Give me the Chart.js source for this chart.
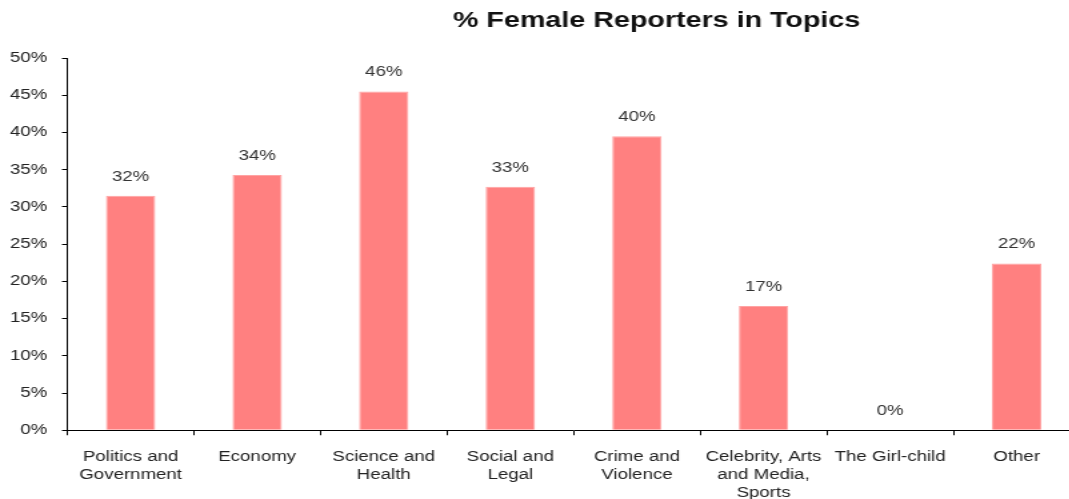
<!DOCTYPE html>
<html>
<head>
<meta charset="utf-8">
<title>% Female Reporters in Topics</title>
<script src="https://cdn.jsdelivr.net/npm/chart.js@4.4.1/dist/chart.umd.min.js"></script>
<style>
  html, body { margin: 0; padding: 0; background: #fff; overflow: hidden; }
</style>
</head>
<body>
<!-- drawn narrow, shown wide -->
<canvas id="topics-chart" width="810" height="499" style="display:block;width:1080px;height:499px"></canvas>
<script>
const topics = [
  ["Politics and", "Government"],
  "Economy",
  ["Science and", "Health"],
  ["Social and", "Legal"],
  ["Crime and", "Violence"],
  ["Celebrity, Arts", "and Media,", "Sports"],
  "The Girl-child",
  "Other",
];

// share of female reporters per topic, in %
const femaleShare = [31.5, 34.3, 45.5, 32.7, 39.5, 16.7, 0, 22.4];

const yTicks = [0, 5, 10, 15, 20, 25, 30, 35, 40, 45, 50];

const chartTitle = "% Female Reporters in Topics";

const FONT = "'Liberation Sans', Arial, Helvetica, sans-serif";
Chart.defaults.font.family = FONT;
Chart.defaults.font.size = 14;
Chart.defaults.color = "#222";

// value labels above each bar
const barLabels = {
  id: "barLabels",
  afterDatasetsDraw(chart) {
    const ctx = chart.ctx;
    const meta = chart.getDatasetMeta(0);
    ctx.save();
    ctx.font = "14px " + FONT;
    ctx.fillStyle = "#333";
    ctx.textAlign = "center";
    ctx.textBaseline = "middle";
    meta.data.forEach((bar, i) => {
      const v = chart.data.datasets[0].data[i];
      ctx.fillText(Math.round(v) + "%", bar.x, bar.y - 19);
    });
    ctx.restore();
  },
};

// title sits right of centre, like the original sheet
const sheetTitle = {
  id: "sheetTitle",
  afterDraw(chart) {
    const ctx = chart.ctx;
    ctx.save();
    ctx.font = "bold 21.5px " + FONT;
    ctx.fillStyle = "#111";
    ctx.textAlign = "center";
    ctx.textBaseline = "middle";
    ctx.fillText(chartTitle, chart.width * 0.608, 21);
    ctx.restore();
  },
};

new Chart(document.getElementById("topics-chart"), {
  type: "bar",
  data: {
    labels: topics,
    datasets: [
      {
        label: "% Female Reporters",
        data: femaleShare,
        backgroundColor: "#ff8080",
        borderColor: "#ffa3a3",
        borderWidth: 1,
        barPercentage: 0.39,
        categoryPercentage: 1,
      },
    ],
  },
  options: {
    responsive: false,
    animation: false,
    devicePixelRatio: 1,
    layout: {
      padding: { top: 58, left: -3.5, right: 0, bottom: -16 },
    },
    plugins: {
      legend: { display: false },
      tooltip: { enabled: false },
    },
    scales: {
      x: {
        grid: {
          offset: true,
          drawOnChartArea: false,
          tickLength: 5,
          color: "#000",
        },
        border: { color: "#000", width: 1 },
        ticks: {
          padding: 13,
          maxRotation: 0,
          autoSkip: false,
          font: { size: 14, lineHeight: 1.28 },
        },
      },
      y: {
        min: 0,
        max: 50,
        afterBuildTicks(axis) {
          axis.ticks = yTicks.map((v) => ({ value: v }));
        },
        grid: {
          drawOnChartArea: false,
          tickLength: 4,
          color: "#000",
        },
        border: { color: "#000", width: 1 },
        ticks: {
          padding: 11,
          callback: (value) => value + "%",
        },
      },
    },
  },
  plugins: [barLabels, sheetTitle],
});
</script>
</body>
</html>
